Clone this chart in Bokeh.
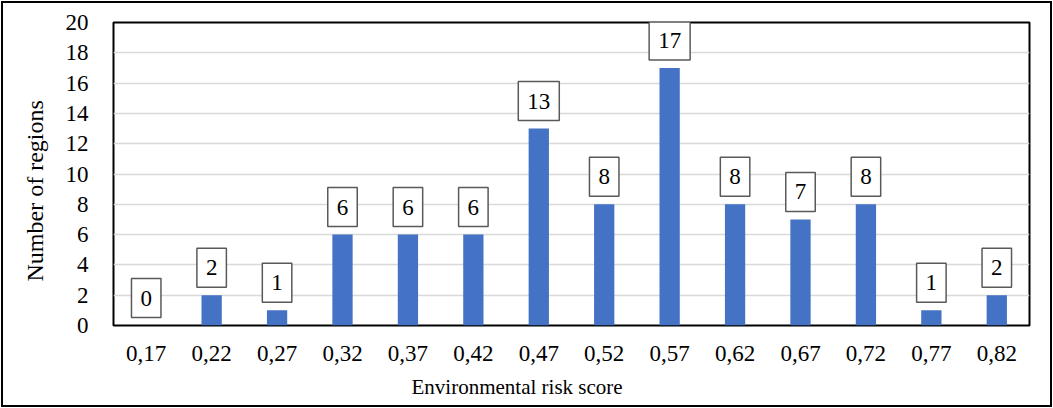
from bokeh.plotting import figure
from bokeh.models import ColumnDataSource, FactorRange, Label, FixedTicker, Title
from bokeh.embed import file_html
from bokeh.resources import INLINE

# Histogram of regions by environmental risk score
scores = ["0,17", "0,22", "0,27", "0,32", "0,37", "0,42", "0,47",
          "0,52", "0,57", "0,62", "0,67", "0,72", "0,77", "0,82"]
counts = [0, 2, 1, 6, 6, 6, 13, 8, 17, 8, 7, 8, 1, 2]
y_ticks = list(range(0, 21, 2))

FONT = "Liberation Serif"

src = ColumnDataSource(dict(score=scores, count=counts))

p = figure(x_range=FactorRange(*scores), y_range=(0, 20),
           width=1053, height=408, output_backend="svg",
           toolbar_location=None,
           min_border_left=113, min_border_right=24,
           min_border_top=22, min_border_bottom=83)

p.vbar(x="score", top="count", width=0.31, source=src,
       fill_color="#4472C4", line_color=None)

# frame
p.outline_line_color = "black"
p.outline_line_width = 2
p.background_fill_color = "white"
p.border_fill_color = None

# grid
p.xgrid.grid_line_color = None
p.ygrid.grid_line_color = "#d9d9d9"
p.ygrid.grid_line_width = 1.5

# axes
p.yaxis.ticker = FixedTicker(ticks=y_ticks)
for ax in (p.xaxis, p.yaxis):
    ax.axis_line_color = None
    ax.major_tick_line_color = None
    ax.minor_tick_line_color = None
    ax.major_label_text_font = FONT
    ax.major_label_text_font_size = "23px"
    ax.major_label_text_color = "black"
p.yaxis.major_label_standoff = 19
p.xaxis.major_label_standoff = 14

# value labels in boxes above bars (factor i sits at synthetic x = i + 0.5)
for i, c in enumerate(counts):
    p.add_layout(Label(x=i + 0.5, y=c, text=str(c),
                       text_align="center", text_baseline="bottom",
                       y_offset=8,
                       text_font=FONT, text_font_size="23px",
                       text_color="black",
                       background_fill_color="white",
                       border_line_color="#595959", border_line_width=1.5,
                       padding=dict(left=9, right=9, top=12, bottom=12)))

# axis titles
p.add_layout(Title(text="Environmental risk score", align="left", offset=298,
                   standoff=18, text_font=FONT, text_font_size="21px",
                   text_font_style="normal", text_color="black"), "below")
p.add_layout(Title(text="Number of regions", align="left", offset=44,
                   standoff=29, text_font=FONT, text_font_size="24px",
                   text_font_style="normal", text_color="black"), "left")

# outer chart border
p.styles = {"outline": "2px solid black", "outline-offset": "-3px"}

open("out.html", "w").write(file_html(p, INLINE))
